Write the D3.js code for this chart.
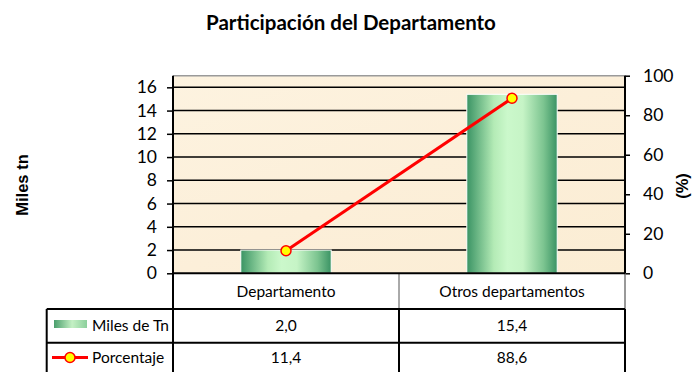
<!DOCTYPE html>
<html>
<head>
<meta charset="utf-8">
<script src="https://cdn.jsdelivr.net/npm/d3@7"></script>
<style>
  html, body { margin: 0; padding: 0; background: #ffffff; }
  svg { display: block; }
  text { font-family: "Liberation Sans Narrow", Lato, "Open Sans", sans-serif; fill: #000; }
</style>
</head>
<body>
<svg id="chart" width="693" height="372"></svg>
<script>
// Data
const categories = ["Departamento", "Otros departamentos"];
const milesTn = [2.0, 15.4];
const porcentaje = [11.4, 88.6];
const leftTicks = [0, 2, 4, 6, 8, 10, 12, 14, 16];
const rightTicks = [0, 20, 40, 60, 80, 100];
const seriesNames = ["Miles de Tn", "Porcentaje"];
const titleText = "Participación del Departamento";
const leftTitle = "Miles tn";
const rightTitle = "(%)";

const fmt = v => d3.format(".1f")(v).replace(".", ",");

const W = 693, H = 372;
const plot = { left: 173, right: 625, top: 75.7, bottom: 273.3 };
const table = { legendLeft: 46.7, row1: 309, row2: 342.7, bottom: 372 };

const svg = d3.select("#chart");

// Gradients
const defs = svg.append("defs");
const barGrad = defs.append("linearGradient").attr("id", "barGrad")
  .attr("x1", "0%").attr("x2", "100%").attr("y1", "0%").attr("y2", "0%");
[["0%", "#3a9364"], ["30%", "#b4ebb6"], ["45%", "#cbf8cb"], ["62%", "#c6f4c6"], ["85%", "#7cc490"], ["100%", "#3a9364"]]
  .forEach(([o, c]) => barGrad.append("stop").attr("offset", o).attr("stop-color", c));
const swGrad = defs.append("linearGradient").attr("id", "swGrad")
  .attr("x1", "0%").attr("x2", "100%");
[["0%", "#4a9e6c"], ["55%", "#c4f0c4"], ["100%", "#8ccf9c"]]
  .forEach(([o, c]) => swGrad.append("stop").attr("offset", o).attr("stop-color", c));
const bgGrad = defs.append("linearGradient").attr("id", "bgGrad")
  .attr("x1", "0%").attr("x2", "100%").attr("y1", "0%").attr("y2", "100%");
[["0%", "#fdf3e0"], ["50%", "#fcefd9"], ["100%", "#fbedd4"]]
  .forEach(([o, c]) => bgGrad.append("stop").attr("offset", o).attr("stop-color", c));

// Scales
const x = d3.scaleBand().domain(categories).range([plot.left, plot.right]).paddingInner(0).paddingOuter(0);
const yL = d3.scaleLinear().domain([0, 17]).range([plot.bottom, plot.top]);
const yR = d3.scaleLinear().domain([0, 100]).range([plot.bottom, plot.top]);
const barW = x.bandwidth() * 0.4;

// Title
svg.append("text").attr("x", 351).attr("y", 30).attr("text-anchor", "middle")
  .style("font-family", "Lato, 'Open Sans', sans-serif")
  .style("font-weight", "bold").style("font-size", "20.5px").text(titleText);

// Plot background
svg.append("rect").attr("x", plot.left).attr("y", plot.top)
  .attr("width", plot.right - plot.left).attr("height", plot.bottom - plot.top)
  .attr("fill", "url(#bgGrad)");

// Gridlines
svg.append("g").selectAll("line").data(leftTicks.filter(d => d > 0)).join("line")
  .attr("x1", plot.left).attr("x2", plot.right)
  .attr("y1", d => yL(d)).attr("y2", d => yL(d))
  .attr("stroke", "#000").attr("stroke-width", 1.5);
svg.append("line").attr("x1", plot.left).attr("x2", plot.right)
  .attr("y1", plot.top).attr("y2", plot.top).attr("stroke", "#9a9a9a").attr("stroke-width", 1.5);

// Bars
svg.append("g").selectAll("rect").data(categories).join("rect")
  .attr("x", d => x(d) + (x.bandwidth() - barW) / 2)
  .attr("width", barW)
  .attr("y", (d, i) => yL(milesTn[i]))
  .attr("height", (d, i) => yL(0) - yL(milesTn[i]))
  .attr("fill", "url(#barGrad)")
  .attr("stroke", "#ffffff").attr("stroke-width", 1);

// Axes
const axL = svg.append("g").attr("transform", `translate(${plot.left},0)`)
  .call(d3.axisLeft(yL).tickValues(leftTicks).tickSize(6).tickSizeOuter(0).tickPadding(10));
const axR = svg.append("g").attr("transform", `translate(${plot.right},0)`)
  .call(d3.axisRight(yR).tickValues(rightTicks).tickSize(5).tickSizeOuter(0).tickPadding(13));
[axL, axR].forEach(ax => {
  ax.select(".domain").remove();
  ax.selectAll(".tick line").attr("stroke", "#000").attr("stroke-width", 1.5);
  ax.selectAll(".tick text").style("font-size", "17.5px")
    .style("font-family", "'Liberation Sans Narrow', Lato, sans-serif");
});

// Table (data table below plot)
const tbl = svg.append("g");
const hLine = (x1, x2, y, c, w) => tbl.append("line").attr("x1", x1).attr("x2", x2)
  .attr("y1", y).attr("y2", y).attr("stroke", c).attr("stroke-width", w);
const vLine = (xx, y1, y2, c, w) => tbl.append("line").attr("x1", xx).attr("x2", xx)
  .attr("y1", y1).attr("y2", y2).attr("stroke", c).attr("stroke-width", w);

const midX = x(categories[1]);
// header row
vLine(midX, plot.bottom, table.row1, "#555", 1);
vLine(plot.right, plot.bottom, table.row1, "#777", 1.5);
hLine(plot.left, plot.right, table.row1, "#000", 1.5);
// data rows
hLine(table.legendLeft, plot.right, table.row1, "#000", 2);
hLine(table.legendLeft, plot.right, table.row2, "#000", 2);
vLine(table.legendLeft, table.row1, table.bottom, "#000", 2);
vLine(midX, table.row1, table.bottom, "#000", 2);
vLine(plot.right, table.row1, table.bottom, "#000", 2);

// Left axis line through the table
vLine(plot.left, plot.top, table.bottom, "#000", 2);
// Right axis line
vLine(plot.right, plot.top, plot.bottom, "#000", 2);
// Baseline
hLine(plot.left, plot.right, plot.bottom, "#000", 2);

const cellFont = "15.5px";
tbl.selectAll("text.cat").data(categories).join("text").attr("class", "cat")
  .attr("x", d => x(d) + x.bandwidth() / 2).attr("y", 297)
  .attr("text-anchor", "middle").style("font-size", cellFont).text(d => d);
tbl.selectAll("text.v1").data(milesTn).join("text").attr("class", "v1")
  .attr("x", (d, i) => x(categories[i]) + x.bandwidth() / 2).attr("y", 331)
  .attr("text-anchor", "middle").style("font-size", cellFont).text(d => fmt(d));
tbl.selectAll("text.v2").data(porcentaje).join("text").attr("class", "v2")
  .attr("x", (d, i) => x(categories[i]) + x.bandwidth() / 2).attr("y", 363)
  .attr("text-anchor", "middle").style("font-size", cellFont).text(d => fmt(d));

// Legend keys in the table
tbl.append("rect").attr("x", 54).attr("y", 320).attr("width", 33).attr("height", 8).attr("fill", "url(#swGrad)");
tbl.append("line").attr("x1", 52).attr("x2", 88).attr("y1", 357.5).attr("y2", 357.5)
  .attr("stroke", "#ff0000").attr("stroke-width", 3);
tbl.append("circle").attr("cx", 70).attr("cy", 357.5).attr("r", 5)
  .attr("fill", "#ffff00").attr("stroke", "#ff0000").attr("stroke-width", 1.5);
tbl.selectAll("text.leg").data(seriesNames).join("text").attr("class", "leg")
  .attr("x", 92).attr("y", (d, i) => i === 0 ? 331 : 363)
  .style("font-size", cellFont).text(d => d);

// Percentage line
const line = d3.line().x((d, i) => x(categories[i]) + x.bandwidth() / 2).y(d => yR(d));
svg.append("path").datum(porcentaje).attr("d", line)
  .attr("fill", "none").attr("stroke", "#ff0000").attr("stroke-width", 3);
svg.append("g").selectAll("circle").data(porcentaje).join("circle")
  .attr("cx", (d, i) => x(categories[i]) + x.bandwidth() / 2).attr("cy", d => yR(d)).attr("r", 5)
  .attr("fill", "#ffff00").attr("stroke", "#ff0000").attr("stroke-width", 1.5);

// Axis titles
svg.append("text").attr("transform", "translate(28,185) rotate(-90)").attr("text-anchor", "middle")
  .style("font-family", "'Liberation Sans', Arial, sans-serif")
  .style("font-weight", "bold").style("font-size", "16.5px").text(leftTitle);
svg.append("text").attr("transform", "translate(688,186) rotate(-90)").attr("text-anchor", "middle")
  .style("font-family", "'Liberation Sans', Arial, sans-serif")
  .style("font-weight", "bold").style("font-size", "16.5px").text(rightTitle);
</script>
</body>
</html>
